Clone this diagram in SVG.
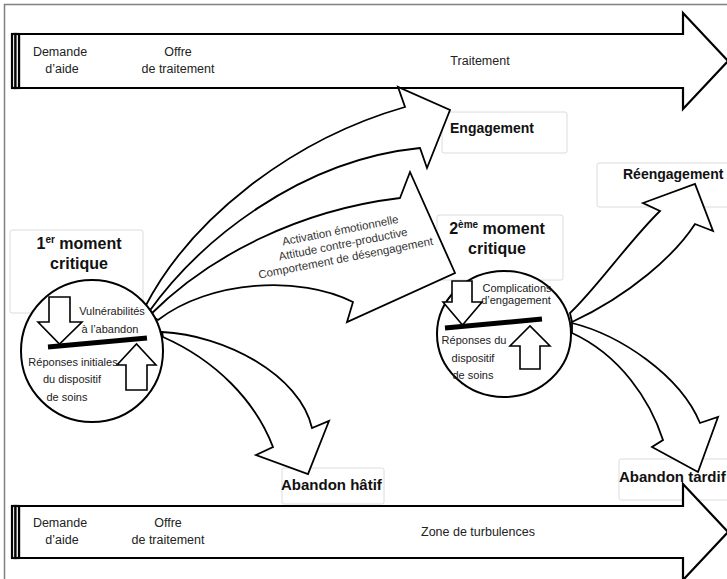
<svg xmlns="http://www.w3.org/2000/svg" width="727" height="579" viewBox="0 0 727 579">
<style>
.frame{fill:none;stroke:#808080;stroke-width:1.5}
.tl{fill:#fff;stroke:#000;stroke-width:2.2;stroke-linejoin:miter}
.arr{fill:#fff;stroke:#000;stroke-width:1.8;stroke-linejoin:miter}
.box{fill:#fff;stroke:#dcdcdc;stroke-width:1}
.circ{fill:#fff;stroke:#000;stroke-width:2}
.blk{fill:#fff;stroke:#000;stroke-width:1.6}
.bar{stroke:#000;stroke-width:5;stroke-linecap:butt}
.t{font-family:"Liberation Sans",Arial,sans-serif;font-size:12.5px;fill:#222;text-anchor:middle}
.s{font-family:"Liberation Sans",Arial,sans-serif;font-size:11px;fill:#222;text-anchor:middle}
.lb{font-family:"Liberation Sans",Arial,sans-serif;font-weight:bold;fill:#111}
.rt{font-family:"Liberation Sans",Arial,sans-serif;font-size:11.5px;fill:#333;text-anchor:middle}
</style>
<rect class="frame" x="4.5" y="4.5" width="740" height="600"/>

<g id="timeline-top">
  <path class="tl" d="M19,34 H683 V13 L728,61 L683,109 V88 H19 Z"/>
  <rect class="tl" x="12" y="34" width="3.5" height="54"/>
  <rect class="tl" x="15.5" y="34" width="3.5" height="54"/>
  <text class="t" x="60" y="56">Demande</text>
  <text class="t" x="62" y="73">d’aide</text>
  <text class="t" x="178" y="56">Offre</text>
  <text class="t" x="178" y="73">de traitement</text>
  <text class="t" x="480" y="65">Traitement</text>
</g>

<g id="box-abandon-tardif">
  <rect class="box" x="619" y="459" width="120" height="41" rx="2"/>
</g>
<g id="box-abandon-hatif">
  <rect class="box" x="282" y="468" width="102" height="36" rx="2"/>
</g>

<g id="timeline-bottom">
  <path class="tl" d="M19,506 H683 V484 L728,532 L683,580 V558 H19 Z"/>
  <rect class="tl" x="12" y="506" width="3.5" height="52"/>
  <rect class="tl" x="15.5" y="506" width="3.5" height="52"/>
  <text class="t" x="60" y="527">Demande</text>
  <text class="t" x="62" y="544">d’aide</text>
  <text class="t" x="168" y="527">Offre</text>
  <text class="t" x="168" y="544">de traitement</text>
  <text class="t" x="478" y="536">Zone de turbulences</text>
</g>

<g id="box-engagement"><rect class="box" x="442" y="112" width="125" height="41" rx="2"/></g>
<g id="box-reengagement"><rect class="box" x="597" y="163" width="140" height="44" rx="2"/></g>
<g id="box-moment1"><rect class="box" x="10" y="230" width="133" height="83" rx="2"/></g>
<g id="box-moment2"><rect class="box" x="437" y="215" width="126" height="65" rx="2"/></g>

<g id="connectors">
  <path id="arrow-engagement" class="arr" d="M145,307 C190,220 290,140 405,107 L398,87 L450,110 L427,168 L420,148 C300,160 200,240 148,313 Z"/>
  <path id="arrow-moment2" class="arr" d="M150,315 C210,255 300,210 400,198 L410,172 L455,273 L347,322 L353,302 C300,275 210,280 158,320 Z"/>
  <path id="arrow-abandon-hatif" class="arr" d="M162,332 C225,335 300,375 312,428 L329,421 L308,474 L256,455 L273,447 C255,400 215,360 163,337 Z"/>
  <path id="arrow-reengagement" class="arr" d="M570,313 C595,290 630,240 660,211 L643,203 L695,184 L713,231 L695,224 C675,255 630,295 572,322 Z"/>
  <path id="arrow-abandon-tardif" class="arr" d="M572,323 C620,335 680,375 700,423 L718,417 L698,472 L652,447 L663,440 C650,400 620,355 572,333 Z"/>
</g>

<g id="moment1">
  <circle class="circ" cx="92" cy="351" r="71"/>
  <path class="blk" d="M49,297 H70 V322 H82 L59.5,344 L38,322 H49 Z"/>
  <line class="bar" x1="48" y1="347" x2="147" y2="338"/>
  <path class="blk" d="M126,390 V365 H117 L136.5,344 L156,365 H147 V390 Z"/>
  <text class="s" x="112" y="315">Vulnérabilités</text>
  <text class="s" x="110" y="333">à l’abandon</text>
  <text class="s" x="73" y="366">Réponses initiales</text>
  <text class="s" x="72" y="383">du dispositif</text>
  <text class="s" x="67" y="401">de soins</text>
</g>

<g id="moment2">
  <ellipse class="circ" cx="504" cy="334" rx="67" ry="63"/>
  <path class="blk" d="M452,281 H472 V302 H482 L462.5,325 L443,302 H452 Z"/>
  <line class="bar" x1="445" y1="328" x2="542" y2="319"/>
  <path class="blk" d="M520,369 V346 H510 L530,326 L550,346 H540 V369 Z"/>
  <text class="s" x="517" y="292">Complications</text>
  <text class="s" x="516" y="304">d’engagement</text>
  <text class="s" x="474" y="344">Réponses du</text>
  <text class="s" x="473" y="362">dispositif</text>
  <text class="s" x="473" y="379">de soins</text>
</g>

<g id="labels">
  <text class="lb" font-size="16" x="79" y="249" text-anchor="middle">1<tspan font-size="10" dy="-6">er</tspan><tspan dy="6"> moment</tspan></text>
  <text class="lb" font-size="16" x="79" y="269" text-anchor="middle">critique</text>
  <text class="lb" font-size="16" x="497" y="234" text-anchor="middle">2<tspan font-size="10" dy="-6">ème</tspan><tspan dy="6"> moment</tspan></text>
  <text class="lb" font-size="16" x="497" y="254" text-anchor="middle">critique</text>
  <text class="lb" font-size="14" x="450" y="133">Engagement</text>
  <text class="lb" font-size="14" x="623" y="179">Réengagement</text>
  <text class="lb" font-size="15" x="281" y="490">Abandon hâtif</text>
  <text class="lb" font-size="15" x="619" y="482">Abandon tardif</text>
</g>

<g id="arrow-text" transform="rotate(-11 343 244)">
  <text class="rt" x="343" y="234">Activation émotionnelle</text>
  <text class="rt" x="343" y="248">Attitude contre-productive</text>
  <text class="rt" x="343" y="262">Comportement de désengagement</text>
</g>
</svg>
